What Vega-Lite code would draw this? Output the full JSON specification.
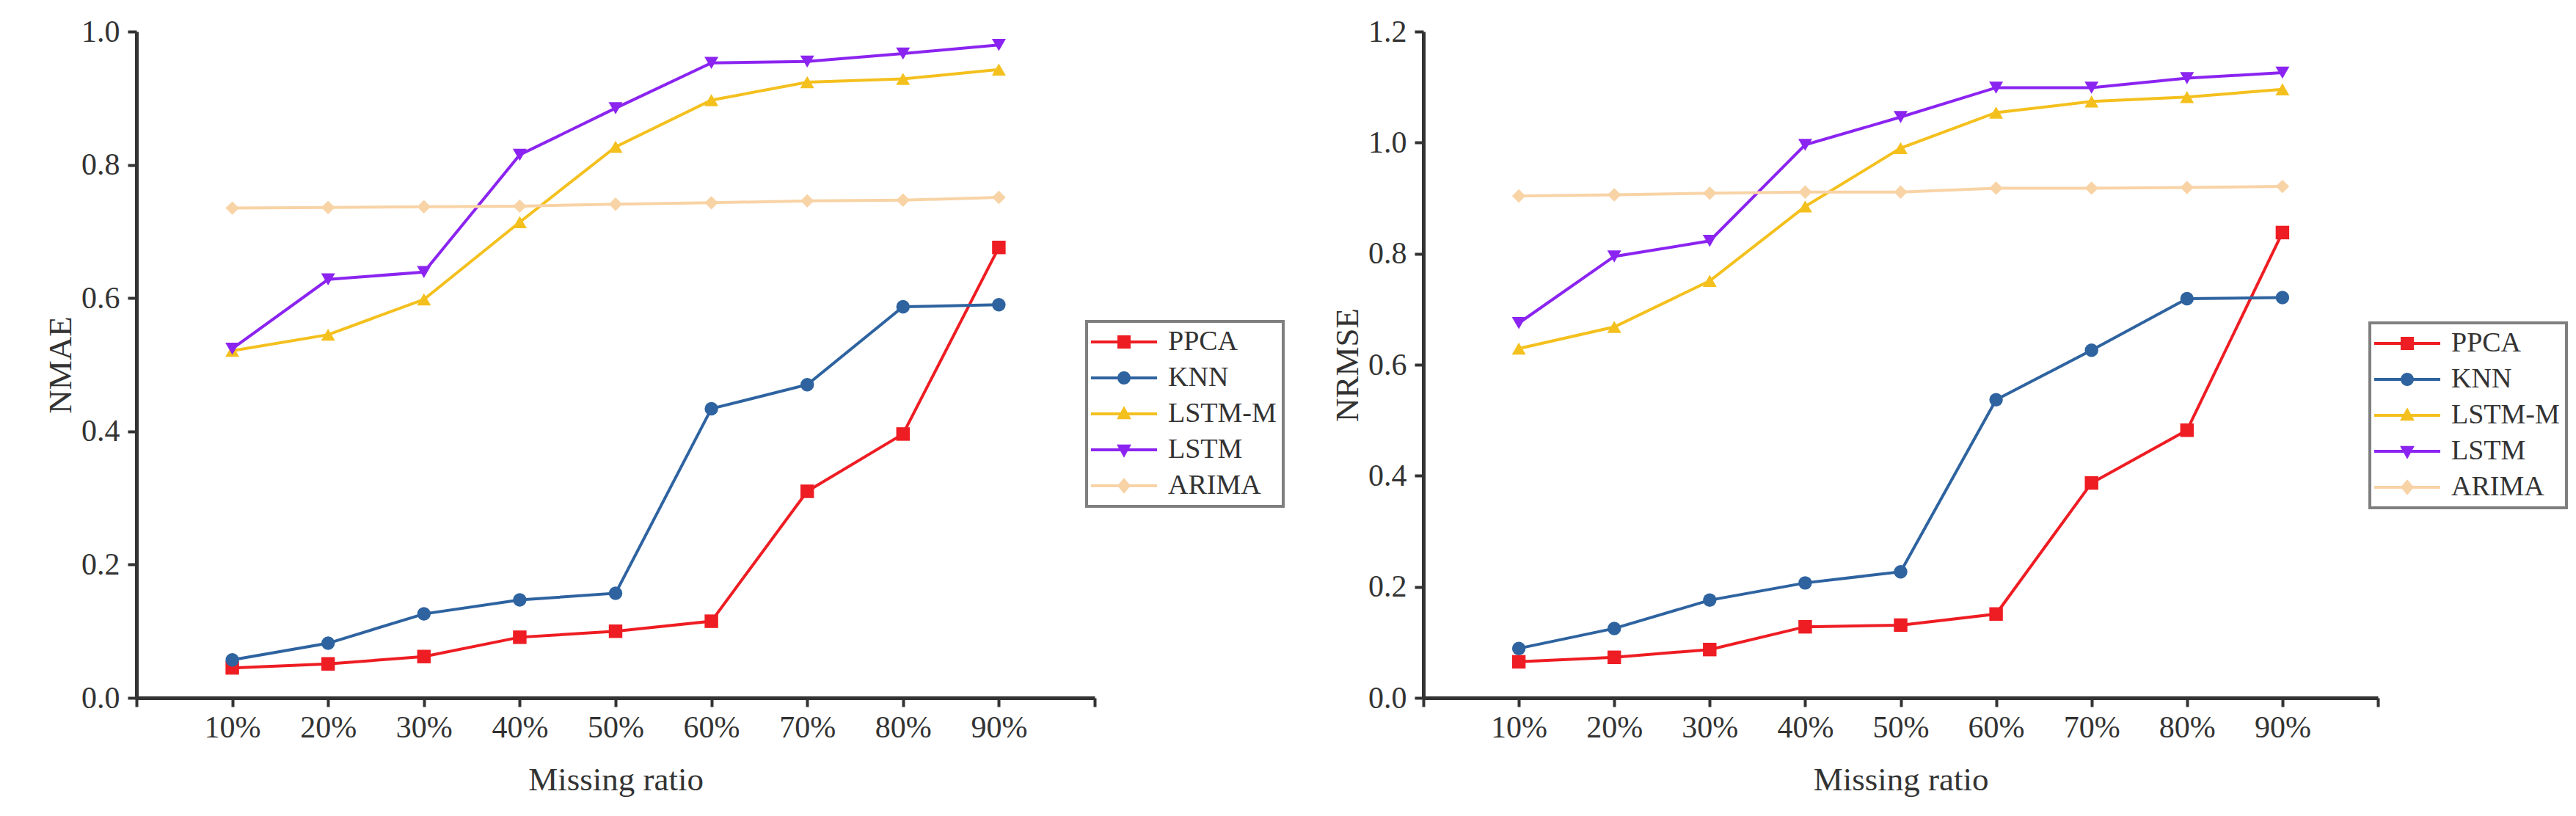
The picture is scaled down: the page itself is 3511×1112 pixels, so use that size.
{
  "$schema": "https://vega.github.io/schema/vega-lite/v6.json",
  "background": "white",
  "padding": {"left": 60, "top": 22, "right": 5, "bottom": 5},
  "bounds": "flush",
  "spacing": 448,
  "datasets": {
    "nmae": [
      {"ratio": 10, "method": "PPCA", "v": 0.045}, {"ratio": 20, "method": "PPCA", "v": 0.051}, {"ratio": 30, "method": "PPCA", "v": 0.062},
      {"ratio": 40, "method": "PPCA", "v": 0.091}, {"ratio": 50, "method": "PPCA", "v": 0.100}, {"ratio": 60, "method": "PPCA", "v": 0.115},
      {"ratio": 70, "method": "PPCA", "v": 0.310}, {"ratio": 80, "method": "PPCA", "v": 0.396}, {"ratio": 90, "method": "PPCA", "v": 0.676},
      {"ratio": 10, "method": "KNN", "v": 0.057}, {"ratio": 20, "method": "KNN", "v": 0.082}, {"ratio": 30, "method": "KNN", "v": 0.126},
      {"ratio": 40, "method": "KNN", "v": 0.147}, {"ratio": 50, "method": "KNN", "v": 0.157}, {"ratio": 60, "method": "KNN", "v": 0.434},
      {"ratio": 70, "method": "KNN", "v": 0.470}, {"ratio": 80, "method": "KNN", "v": 0.587}, {"ratio": 90, "method": "KNN", "v": 0.590},
      {"ratio": 10, "method": "LSTM-M", "v": 0.521}, {"ratio": 20, "method": "LSTM-M", "v": 0.545}, {"ratio": 30, "method": "LSTM-M", "v": 0.598},
      {"ratio": 40, "method": "LSTM-M", "v": 0.714}, {"ratio": 50, "method": "LSTM-M", "v": 0.827}, {"ratio": 60, "method": "LSTM-M", "v": 0.897},
      {"ratio": 70, "method": "LSTM-M", "v": 0.924}, {"ratio": 80, "method": "LSTM-M", "v": 0.929}, {"ratio": 90, "method": "LSTM-M", "v": 0.943},
      {"ratio": 10, "method": "LSTM", "v": 0.524}, {"ratio": 20, "method": "LSTM", "v": 0.628}, {"ratio": 30, "method": "LSTM", "v": 0.639},
      {"ratio": 40, "method": "LSTM", "v": 0.815}, {"ratio": 50, "method": "LSTM", "v": 0.885}, {"ratio": 60, "method": "LSTM", "v": 0.953},
      {"ratio": 70, "method": "LSTM", "v": 0.955}, {"ratio": 80, "method": "LSTM", "v": 0.967}, {"ratio": 90, "method": "LSTM", "v": 0.980},
      {"ratio": 10, "method": "ARIMA", "v": 0.735}, {"ratio": 20, "method": "ARIMA", "v": 0.736}, {"ratio": 30, "method": "ARIMA", "v": 0.737},
      {"ratio": 40, "method": "ARIMA", "v": 0.738}, {"ratio": 50, "method": "ARIMA", "v": 0.741}, {"ratio": 60, "method": "ARIMA", "v": 0.743},
      {"ratio": 70, "method": "ARIMA", "v": 0.746}, {"ratio": 80, "method": "ARIMA", "v": 0.747}, {"ratio": 90, "method": "ARIMA", "v": 0.751}
    ],
    "nrmse": [
      {"ratio": 10, "method": "PPCA", "v": 0.065}, {"ratio": 20, "method": "PPCA", "v": 0.073}, {"ratio": 30, "method": "PPCA", "v": 0.087},
      {"ratio": 40, "method": "PPCA", "v": 0.128}, {"ratio": 50, "method": "PPCA", "v": 0.131}, {"ratio": 60, "method": "PPCA", "v": 0.151},
      {"ratio": 70, "method": "PPCA", "v": 0.387}, {"ratio": 80, "method": "PPCA", "v": 0.482}, {"ratio": 90, "method": "PPCA", "v": 0.838},
      {"ratio": 10, "method": "KNN", "v": 0.089}, {"ratio": 20, "method": "KNN", "v": 0.125}, {"ratio": 30, "method": "KNN", "v": 0.176},
      {"ratio": 40, "method": "KNN", "v": 0.207}, {"ratio": 50, "method": "KNN", "v": 0.227}, {"ratio": 60, "method": "KNN", "v": 0.537},
      {"ratio": 70, "method": "KNN", "v": 0.626}, {"ratio": 80, "method": "KNN", "v": 0.719}, {"ratio": 90, "method": "KNN", "v": 0.721},
      {"ratio": 10, "method": "LSTM-M", "v": 0.629}, {"ratio": 20, "method": "LSTM-M", "v": 0.668}, {"ratio": 30, "method": "LSTM-M", "v": 0.751},
      {"ratio": 40, "method": "LSTM-M", "v": 0.885}, {"ratio": 50, "method": "LSTM-M", "v": 0.990}, {"ratio": 60, "method": "LSTM-M", "v": 1.054},
      {"ratio": 70, "method": "LSTM-M", "v": 1.074}, {"ratio": 80, "method": "LSTM-M", "v": 1.082}, {"ratio": 90, "method": "LSTM-M", "v": 1.096},
      {"ratio": 10, "method": "LSTM", "v": 0.675}, {"ratio": 20, "method": "LSTM", "v": 0.795}, {"ratio": 30, "method": "LSTM", "v": 0.823},
      {"ratio": 40, "method": "LSTM", "v": 0.996}, {"ratio": 50, "method": "LSTM", "v": 1.046}, {"ratio": 60, "method": "LSTM", "v": 1.099},
      {"ratio": 70, "method": "LSTM", "v": 1.099}, {"ratio": 80, "method": "LSTM", "v": 1.116}, {"ratio": 90, "method": "LSTM", "v": 1.126},
      {"ratio": 10, "method": "ARIMA", "v": 0.904}, {"ratio": 20, "method": "ARIMA", "v": 0.906}, {"ratio": 30, "method": "ARIMA", "v": 0.909},
      {"ratio": 40, "method": "ARIMA", "v": 0.911}, {"ratio": 50, "method": "ARIMA", "v": 0.911}, {"ratio": 60, "method": "ARIMA", "v": 0.918},
      {"ratio": 70, "method": "ARIMA", "v": 0.918}, {"ratio": 80, "method": "ARIMA", "v": 0.919}, {"ratio": 90, "method": "ARIMA", "v": 0.921}
    ]
  },
  "config": {
    "font": "Liberation Serif",
    "view": {"stroke": null},
    "axis": {
      "grid": false,
      "domainColor": "#333333",
      "domainWidth": 5,
      "tickColor": "#333333",
      "tickWidth": 4,
      "tickSize": 12,
      "labelFont": "Liberation Serif",
      "labelFontSize": 42,
      "labelColor": "#333333",
      "labelFlush": false,
      "labelOverlap": false,
      "titleFont": "Liberation Serif",
      "titleFontSize": 45,
      "titleFontWeight": "normal",
      "titleColor": "#333333"
    },
    "axisX": {"labelPadding": 8, "titlePadding": 28},
    "axisY": {"labelPadding": 11, "titlePadding": 5},
    "legend": {
      "title": null,
      "orient": "none",
      "padding": 9,
      "rowPadding": 11,
      "labelFont": "Liberation Serif",
      "labelFontSize": 38,
      "labelColor": "#333333",
      "symbolSize": 324,
      "symbolOpacity": 1,
      "symbolStrokeWidth": 0,
      "symbolOffset": 23,
      "labelOffset": 41,
      "strokeColor": "#7f7f7f",
      "strokeWidth": 4
    }
  },
  "resolve": {"scale": {"color": "independent", "shape": "independent", "x": "independent", "y": "independent"}},
  "hconcat": [
    {
      "width": 1306,
      "height": 908,
      "data": {"name": "nmae"},
      "encoding": {
        "x": {
          "field": "ratio", "type": "quantitative",
          "scale": {"domain": [0, 100], "nice": false},
          "axis": {"title": "Missing ratio", "values": [0, 10, 20, 30, 40, 50, 60, 70, 80, 90, 100],
                   "labelExpr": "datum.value == 0 || datum.value == 100 ? '' : datum.value + '%'"}
        },
        "y": {
          "field": "v", "type": "quantitative",
          "scale": {"domain": [0, 1], "nice": false},
          "axis": {"title": "NMAE", "values": [0, 0.2, 0.4, 0.6, 0.8, 1.0], "format": ".1f"}
        },
        "color": {
          "field": "method", "type": "nominal",
          "scale": {"domain": ["PPCA", "KNN", "LSTM-M", "LSTM", "ARIMA"],
                    "range": ["#ee1d23", "#2e63a0", "#f4c01e", "#8b24f0", "#f8d3a6"]},
          "legend": {"legendX": 1295, "legendY": 395}
        }
      },
      "layer": [
        {"mark": {"type": "line", "strokeWidth": 4}},
        {
          "mark": {"type": "point", "filled": true, "opacity": 0, "size": 324},
          "encoding": {
            "shape": {
              "field": "method", "type": "nominal",
              "scale": {"domain": ["PPCA", "KNN", "LSTM-M", "LSTM", "ARIMA"],
                        "range": ["M-5,-0.22H5V0.22H-5ZM-1,-1H1V1H-1Z",
                                  "M-5,-0.22H5V0.22H-5ZM-1,0A1,1,0,1,1,1,0A1,1,0,1,1,-1,0Z",
                                  "M-5,-0.22H5V0.22H-5ZM0,-1.2L1.1,0.8H-1.1Z",
                                  "M-5,-0.22H5V0.22H-5ZM0,1.2L-1.1,-0.8H1.1Z",
                                  "M-5,-0.22H5V0.22H-5ZM0,-1.2L1,0L0,1.2L-1,0Z"]},
              "legend": {"legendX": 1295, "legendY": 395}
            }
          }
        },
        {"transform": [{"filter": "datum.method == 'PPCA'"}], "mark": {"type": "point", "shape": "square", "filled": true, "opacity": 1, "size": 340}},
        {"transform": [{"filter": "datum.method == 'KNN'"}], "mark": {"type": "point", "shape": "circle", "filled": true, "opacity": 1, "size": 340}},
        {"transform": [{"filter": "datum.method == 'LSTM-M'"}], "mark": {"type": "point", "shape": "triangle-up", "filled": true, "opacity": 1, "size": 360}},
        {"transform": [{"filter": "datum.method == 'LSTM'"}], "mark": {"type": "point", "shape": "triangle-down", "filled": true, "opacity": 1, "size": 360}},
        {"transform": [{"filter": "datum.method == 'ARIMA'"}], "mark": {"type": "point", "shape": "diamond", "filled": true, "opacity": 1, "size": 340}}
      ]
    },
    {
      "width": 1301,
      "height": 908,
      "data": {"name": "nrmse"},
      "encoding": {
        "x": {
          "field": "ratio", "type": "quantitative",
          "scale": {"domain": [0, 100], "nice": false},
          "axis": {"title": "Missing ratio", "values": [0, 10, 20, 30, 40, 50, 60, 70, 80, 90, 100],
                   "labelExpr": "datum.value == 0 || datum.value == 100 ? '' : datum.value + '%'"}
        },
        "y": {
          "field": "v", "type": "quantitative",
          "scale": {"domain": [0, 1.2], "nice": false},
          "axis": {"title": "NRMSE", "values": [0, 0.2, 0.4, 0.6, 0.8, 1.0, 1.2], "format": ".1f"}
        },
        "color": {
          "field": "method", "type": "nominal",
          "scale": {"domain": ["PPCA", "KNN", "LSTM-M", "LSTM", "ARIMA"],
                    "range": ["#ee1d23", "#2e63a0", "#f4c01e", "#8b24f0", "#f8d3a6"]},
          "legend": {"legendX": 1290, "legendY": 397}
        }
      },
      "layer": [
        {"mark": {"type": "line", "strokeWidth": 4}},
        {
          "mark": {"type": "point", "filled": true, "opacity": 0, "size": 324},
          "encoding": {
            "shape": {
              "field": "method", "type": "nominal",
              "scale": {"domain": ["PPCA", "KNN", "LSTM-M", "LSTM", "ARIMA"],
                        "range": ["M-5,-0.22H5V0.22H-5ZM-1,-1H1V1H-1Z",
                                  "M-5,-0.22H5V0.22H-5ZM-1,0A1,1,0,1,1,1,0A1,1,0,1,1,-1,0Z",
                                  "M-5,-0.22H5V0.22H-5ZM0,-1.2L1.1,0.8H-1.1Z",
                                  "M-5,-0.22H5V0.22H-5ZM0,1.2L-1.1,-0.8H1.1Z",
                                  "M-5,-0.22H5V0.22H-5ZM0,-1.2L1,0L0,1.2L-1,0Z"]},
              "legend": {"legendX": 1290, "legendY": 397}
            }
          }
        },
        {"transform": [{"filter": "datum.method == 'PPCA'"}], "mark": {"type": "point", "shape": "square", "filled": true, "opacity": 1, "size": 340}},
        {"transform": [{"filter": "datum.method == 'KNN'"}], "mark": {"type": "point", "shape": "circle", "filled": true, "opacity": 1, "size": 340}},
        {"transform": [{"filter": "datum.method == 'LSTM-M'"}], "mark": {"type": "point", "shape": "triangle-up", "filled": true, "opacity": 1, "size": 360}},
        {"transform": [{"filter": "datum.method == 'LSTM'"}], "mark": {"type": "point", "shape": "triangle-down", "filled": true, "opacity": 1, "size": 360}},
        {"transform": [{"filter": "datum.method == 'ARIMA'"}], "mark": {"type": "point", "shape": "diamond", "filled": true, "opacity": 1, "size": 340}}
      ]
    }
  ]
}
